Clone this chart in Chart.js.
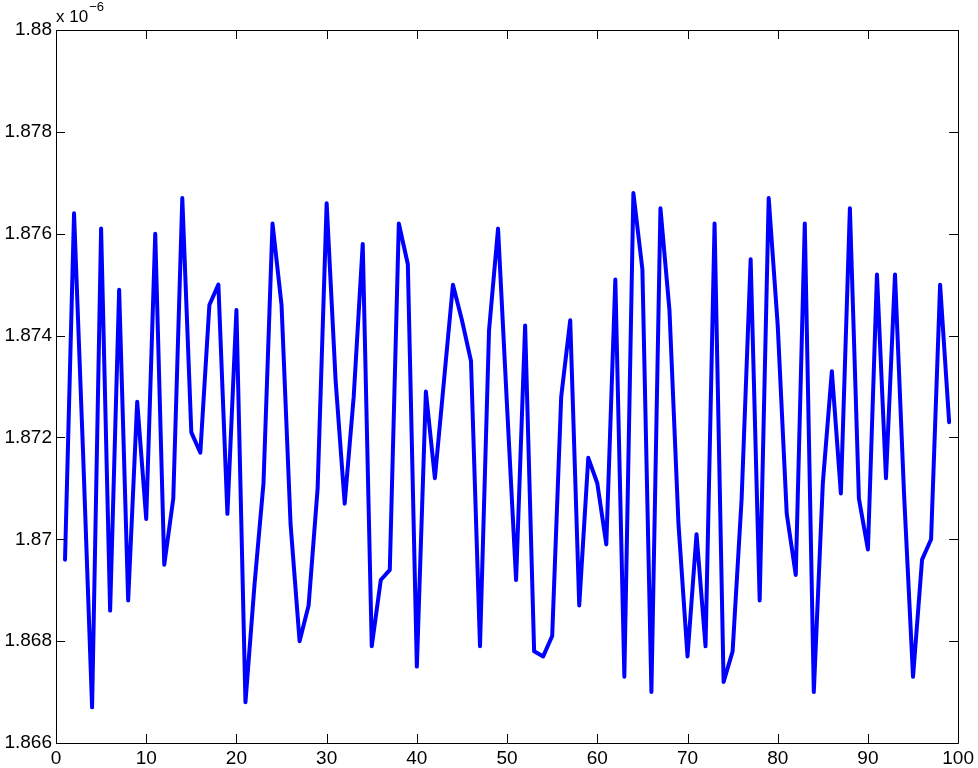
<!DOCTYPE html>
<html>
<head>
<meta charset="utf-8">
<script src="https://cdn.jsdelivr.net/npm/chart.js@4/dist/chart.umd.min.js"></script>
<style>
  html, body { margin: 0; padding: 0; background: #fff; }
  #wrap { width: 978px; height: 768px; }
</style>
</head>
<body>
<div id="wrap"><canvas id="plot" width="978" height="768"></canvas></div>
<script>
// sample index along the x axis
const sampleIndex = [
   1,  2,  3,  4,  5,  6,  7,  8,  9, 10,
  11, 12, 13, 14, 15, 16, 17, 18, 19, 20,
  21, 22, 23, 24, 25, 26, 27, 28, 29, 30,
  31, 32, 33, 34, 35, 36, 37, 38, 39, 40,
  41, 42, 43, 44, 45, 46, 47, 48, 49, 50,
  51, 52, 53, 54, 55, 56, 57, 58, 59, 60,
  61, 62, 63, 64, 65, 66, 67, 68, 69, 70,
  71, 72, 73, 74, 75, 76, 77, 78, 79, 80,
  81, 82, 83, 84, 85, 86, 87, 88, 89, 90,
  91, 92, 93, 94, 95, 96, 97, 98, 99
];

// values in units of 1e-6 (axis shows "x 10^-6")
const sampleValue = [
  1.8696, 1.8764, 1.8717, 1.8667, 1.8761, 1.8686, 1.8749, 1.8688, 1.8727, 1.8704,
  1.8760, 1.8695, 1.8708, 1.8767, 1.8721, 1.8717, 1.8746, 1.8750, 1.8705, 1.8745,
  1.8668, 1.8691, 1.8711, 1.8762, 1.8746, 1.8703, 1.8680, 1.8687, 1.8710, 1.8766,
  1.8731, 1.8707, 1.8728, 1.8758, 1.8679, 1.8692, 1.8694, 1.8762, 1.8754, 1.8675,
  1.8729, 1.8712, 1.8731, 1.8750, 1.8743, 1.8735, 1.8679, 1.8741, 1.8761, 1.8726,
  1.8692, 1.8742, 1.8678, 1.8677, 1.8681, 1.8728, 1.8743, 1.8687, 1.8716, 1.8711,
  1.8699, 1.8751, 1.8673, 1.8768, 1.8753, 1.8670, 1.8765, 1.8745, 1.8703, 1.8677,
  1.8701, 1.8679, 1.8762, 1.8672, 1.8678, 1.8708, 1.8755, 1.8688, 1.8767, 1.8742,
  1.8705, 1.8693, 1.8762, 1.8670, 1.8711, 1.8733, 1.8709, 1.8765, 1.8708, 1.8698,
  1.8752, 1.8712, 1.8752, 1.8709, 1.8673, 1.8696, 1.8700, 1.8750, 1.8723
];

const xRange = [0, 100];
const xStep = 10;
const yRange = [1.866, 1.88];
const yStep = 0.002;

const fontFamily = '"Liberation Sans", Arial, Helvetica, sans-serif';
const tickFont = { family: fontFamily, size: 19 };

const points = sampleIndex.map((x, i) => ({ x: x, y: sampleValue[i] }));

// matlab style box with inward ticks and the exponent label
const boxPlugin = {
    id: 'box',
    afterDraw(chart) {
        const ctx = chart.ctx;
        const area = chart.chartArea;
        const xs = chart.scales.x;
        const ys = chart.scales.y;
        const len = 9;

        ctx.save();
        ctx.strokeStyle = '#000';
        ctx.lineWidth = 1;
        ctx.beginPath();
        ctx.rect(Math.round(area.left) + 0.5, Math.round(area.top) + 0.5,
                 Math.round(area.right - area.left), Math.round(area.bottom - area.top));
        ctx.stroke();

        ctx.beginPath();
        xs.ticks.forEach(t => {
            const px = Math.round(xs.getPixelForValue(t.value)) + 0.5;
            ctx.moveTo(px, area.bottom);
            ctx.lineTo(px, area.bottom - len);
            ctx.moveTo(px, area.top);
            ctx.lineTo(px, area.top + len);
        });
        ys.ticks.forEach(t => {
            const py = Math.round(ys.getPixelForValue(t.value)) + 0.5;
            ctx.moveTo(area.left, py);
            ctx.lineTo(area.left + len, py);
            ctx.moveTo(area.right, py);
            ctx.lineTo(area.right - len, py);
        });
        ctx.stroke();

        ctx.fillStyle = '#000';
        ctx.textBaseline = 'alphabetic';
        ctx.textAlign = 'left';
        ctx.font = '17px ' + fontFamily;
        ctx.fillText('x 10', area.left, 22);
        const w = ctx.measureText('x 10').width;
        ctx.font = '13px ' + fontFamily;
        ctx.fillText('\u22126', area.left + w + 1, 11);
        ctx.restore();
    }
};

new Chart(document.getElementById('plot').getContext('2d'), {
    type: 'line',
    data: {
        datasets: [{
            data: points,
            borderColor: '#0000ff',
            borderWidth: 4,
            borderJoinStyle: 'round',
            borderCapStyle: 'round',
            pointRadius: 0,
            tension: 0,
            fill: false
        }]
    },
    options: {
        responsive: false,
        animation: false,
        layout: { padding: { top: 30, right: 16, left: 0, bottom: 0 } },
        plugins: {
            legend: { display: false },
            tooltip: { enabled: false }
        },
        scales: {
            x: {
                type: 'linear',
                min: xRange[0],
                max: xRange[1],
                grid: { display: false, drawTicks: false },
                border: { display: false },
                ticks: {
                    stepSize: xStep,
                    color: '#000',
                    font: tickFont,
                    padding: 4,
                    maxRotation: 0,
                    autoSkip: false
                },
                afterFit(scale) { scale.height = 25; }
            },
            y: {
                type: 'linear',
                min: yRange[0],
                max: yRange[1],
                grid: { display: false, drawTicks: false },
                border: { display: false },
                ticks: {
                    stepSize: yStep,
                    color: '#000',
                    font: tickFont,
                    padding: 4,
                    callback: v => String(Number(v.toFixed(3)))
                },
                afterFit(scale) { scale.width = 56; }
            }
        }
    },
    plugins: [boxPlugin]
});
</script>
</body>
</html>
